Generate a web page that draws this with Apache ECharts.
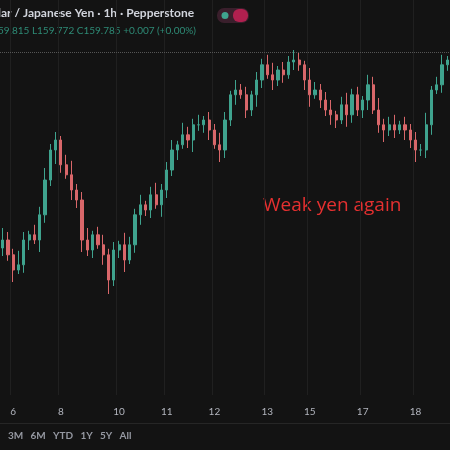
<!DOCTYPE html>
<html><head><meta charset="utf-8">
<script src="https://cdn.jsdelivr.net/npm/echarts@6/dist/echarts.min.js"></script>
<style>html,body{margin:0;padding:0;background:#131313}#c{width:450px;height:450px}</style>
</head><body><div id="c"></div>
<script>
const closes=[155.5,155.13,154.75,154.88,155.5,155.63,155.5,156.13,157.0,157.75,158.0,157.38,157.13,156.75,156.5,155.5,155.25,155.63,155.38,155.13,154.5,155.25,155.38,155.0,155.38,156.13,156.38,156.25,156.63,156.38,156.75,157.25,157.75,157.88,158.13,158.0,158.38,158.38,158.5,158.25,157.88,157.75,158.5,159.13,159.25,159.13,158.75,159.13,159.5,159.88,159.63,159.5,159.75,159.63,159.95,160.0,159.88,159.5,159.13,159.25,159.0,158.75,158.63,158.5,158.88,158.63,159.13,158.75,159.0,159.38,158.75,158.38,158.25,158.38,158.25,158.38,158.25,158.0,157.75,157.75,158.38,159.25,159.38,159.88,160.0];
const opens=[155.3,155.5,155.13,154.75,154.88,155.5,155.63,155.5,156.13,157.0,157.75,158.0,157.38,157.13,156.75,156.5,155.5,155.25,155.63,155.38,155.13,154.5,155.25,155.38,155.0,155.38,156.13,156.38,156.25,156.63,156.38,156.75,157.25,157.75,157.88,158.13,158.0,158.38,158.38,158.5,158.25,157.88,157.75,158.5,159.13,159.25,159.13,158.75,159.13,159.5,159.88,159.63,159.5,159.75,159.63,159.95,160.0,159.88,159.5,159.13,159.25,159.0,158.75,158.63,158.5,158.88,158.63,159.13,158.75,159.0,159.38,158.75,158.38,158.25,158.38,158.25,158.38,158.25,158.0,157.75,157.75,158.38,159.25,159.38,159.88];
const wicks=[0.2,0.15,0.3,0.1,0.2,0.25,0.1,0.3,0.2,0.15,0.35,0.2,0.1,0.25,0.2,0.3,0.15,0.2,0.1,0.25,0.35,0.15,0.2,0.3,0.1,0.2,0.25,0.15,0.2,0.1,0.3,0.2,0.15,0.25,0.1,0.2,0.3,0.15,0.2,0.25,0.1,0.3,0.2,0.15,0.25,0.1,0.2,0.15,0.3,0.2,0.1,0.25,0.15,0.2,0.1,0.2,0.15,0.25,0.3,0.1,0.2,0.15,0.25,0.2,0.1,0.3,0.2,0.15,0.2,0.25,0.1,0.2,0.3,0.15,0.2,0.1,0.25,0.2,0.3,0.15,0.2,0.25,0.1,0.2,0.15];
const dayLabels={2:'6',11:'8',22:'10',31:'11',40:'12',50:'13',58:'15',68:'17',78:'18'};
const cats=closes.map((_,i)=>String(i));
const ohlc=closes.map((c,i)=>{const o=opens[i];return [o,c,Math.min(o,c)-wicks[i],Math.max(o,c)+wicks[(i+7)%wicks.length]];});
const ch=echarts.init(document.getElementById('c'));
const show=(i)=>dayLabels[i]!==undefined;
ch.setOption({
 backgroundColor:'#131313',animation:false,
 grid:{left:-3,right:-3,top:0,bottom:55},
 xAxis:{type:'category',data:cats,boundaryGap:true,
  axisLine:{show:false},axisTick:{show:false},
  axisLabel:{interval:(i)=>show(i),formatter:(v)=>dayLabels[v]||'',color:'#b2b5be',fontSize:10,fontFamily:'Lato',margin:12},
  splitLine:{show:true,interval:(i)=>show(i),lineStyle:{color:'#202020'}}},
 yAxis:{type:'value',min:151.625,max:161.5,show:false,splitLine:{show:false}},
 series:[{type:'candlestick',data:ohlc,barMaxWidth:4,
  itemStyle:{color:'#3fa38e',color0:'#d9676a',borderColor:'#3fa38e',borderColor0:'#d9676a'},
  markLine:{symbol:'none',silent:true,label:{show:false},lineStyle:{color:'#555',type:'dotted',width:1},data:[{yAxis:160.2}]}}],
 graphic:[
  {type:'text',left:-2,top:7,style:{text:'lar / Japanese Yen · 1h · Pepperstone',fill:'#d1d4dc',font:'bold 12px Lato'}},
  {type:'text',left:-2,top:26,style:{text:'59.815 L159.772 C159.785 +0.007 (+0.00%)',fill:'#2e8b76',font:'10px Lato'}},
  {type:'rect',shape:{x:217,y:8,width:32,height:15,r:7},style:{fill:'#3a1f2c'}},
  {type:'circle',shape:{cx:225,cy:15.5,r:3.5},style:{fill:'#3fa38e'}},
  {type:'rect',shape:{x:233,y:9,width:15,height:13,r:6},style:{fill:'#b0204f'}},
  {type:'text',left:263,top:196,style:{text:'Weak yen again',fill:'#e53030',font:'19px "Open Sans"'}},
  {type:'rect',shape:{x:0,y:423,width:450,height:1},style:{fill:'#262626'}},
  {type:'text',left:8,top:431,style:{text:'3M   6M   YTD   1Y   5Y   All',fill:'#9598a1',font:'bold 10px Lato'}}
 ]
});
</script></body></html>
